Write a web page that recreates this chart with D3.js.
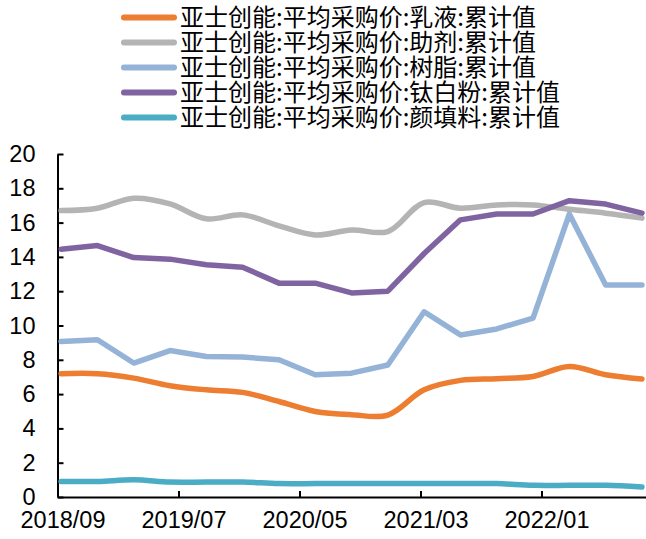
<!DOCTYPE html>
<html><head><meta charset="utf-8">
<script src="https://cdn.jsdelivr.net/npm/d3@7/dist/d3.min.js"></script>
<style>html,body{margin:0;padding:0;background:#fff;}svg{display:block;}</style>
</head><body>
<svg id="chart" width="646" height="539"></svg>
<script>
// ---- data ----
const dates = ["2018/09","2018/12","2019/03","2019/06","2019/09","2019/12","2020/03","2020/06","2020/09","2020/12","2021/03","2021/06","2021/09","2021/12","2022/03","2022/06","2022/09"];
const tickLabels = ["2018/09","2019/07","2020/05","2021/03","2022/01"];
const yTicks = [0,2,4,6,8,10,12,14,16,18,20];
const seriesNames = ["亚士创能:平均采购价:乳液:累计值","亚士创能:平均采购价:助剂:累计值","亚士创能:平均采购价:树脂:累计值","亚士创能:平均采购价:钛白粉:累计值","亚士创能:平均采购价:颜填料:累计值"];
const emulsion = [7.19,7.19,6.93,6.49,6.25,6.10,5.57,4.99,4.80,4.78,6.25,6.80,6.90,7.03,7.61,7.13,6.88];
const additive = [16.70,16.84,17.42,17.09,16.22,16.45,15.81,15.28,15.57,15.48,17.17,16.84,17.03,17.03,16.78,16.55,16.26];
const resin = [9.07,9.17,7.81,8.54,8.19,8.16,8.00,7.13,7.22,7.70,10.80,9.45,9.80,10.43,16.50,12.36,12.36];
const titanium = [14.45,14.66,13.96,13.87,13.54,13.40,12.47,12.47,11.90,12.00,14.20,16.16,16.50,16.50,17.28,17.08,16.55];
const filler = [0.91,0.91,1.00,0.87,0.87,0.87,0.78,0.78,0.78,0.78,0.78,0.78,0.78,0.68,0.68,0.68,0.58];

const colors = ["#ED7D31","#B4B4B4","#95B3D7","#8064A2","#4BACC6"];
const smooth = [true,true,false,false,true];
const seriesValues = [emulsion, additive, resin, titanium, filler];

// month index relative to 2018/09
function monthIdx(s){const [y,m]=s.split("/").map(Number);return (y-2018)*12+(m-9);}

const svg = d3.select("#chart");
const x = d3.scaleLinear().domain([0,48.8]).range([57.5,648]);
const y = d3.scaleLinear().domain([0,20]).range([497,154]);
const fontNum = "'Liberation Sans', Arial, sans-serif";

// axes
const yAxis = d3.axisLeft(y).tickValues(yTicks).tickSizeInner(-6).tickSizeOuter(0).tickPadding(22);
const gy = svg.append("g").attr("transform","translate(57.5,0)").call(yAxis);
gy.selectAll("text").attr("font-family",fontNum).attr("font-size","23.5px").attr("fill","#000");
gy.selectAll("line,path").attr("stroke","#000").attr("stroke-width",2);

const xAxis = d3.axisBottom(x).tickValues(tickLabels.map(monthIdx)).tickSizeInner(-6).tickSizeOuter(0)
  .tickFormat((d,i)=>tickLabels[i]).tickPadding(14);
const gx = svg.append("g").attr("transform","translate(0,497)").call(xAxis);
gx.selectAll("text").attr("font-family",fontNum).attr("font-size","23.5px").attr("fill","#000").attr("dx",5);
gx.selectAll("line,path").attr("stroke","#000").attr("stroke-width",2);

// lines
[0,1,2,3,4].forEach(k=>{
  const line = d3.line()
    .x((d,i)=>x(monthIdx(dates[i])+0.3))
    .y(d=>y(d))
    .curve(smooth[k] ? d3.curveCatmullRom.alpha(0.5) : d3.curveLinear);
  svg.append("path").datum(seriesValues[k]).attr("d",line)
    .attr("fill","none").attr("stroke",colors[k]).attr("stroke-width",5.5)
    .attr("stroke-linejoin","round").attr("stroke-linecap","round");
});

// legend
const leg = svg.append("g");
seriesNames.forEach((n,i)=>{
  const yy = 17.5 + i*25;
  leg.append("line").attr("x1",124).attr("x2",174).attr("y1",yy).attr("y2",yy)
    .attr("stroke",colors[i]).attr("stroke-width",6).attr("stroke-linecap","round");
  leg.append("text").attr("x",180).attr("y",yy).attr("dy","0.36em")
    .attr("font-family","'Noto Sans CJK SC', sans-serif").attr("font-size","24px").attr("fill","#000").text(n);
});
</script>
</body></html>
